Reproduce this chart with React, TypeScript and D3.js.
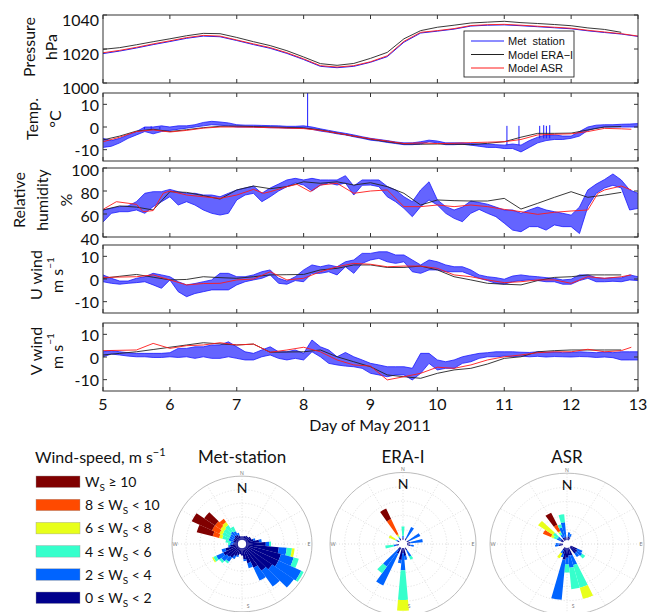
import React from 'react';
import * as d3 from 'd3';

// ---------------- time-series data ----------------
const X_TICKS = [5, 6, 7, 8, 9, 10, 11, 12, 13];
const ERA_START = 5;
const ERA_STEP = 0.25; // ERA-I, 6-hourly
const MET_START = 5;
const MET_STEP = 0.125; // met-station envelope, 3-hourly [low, high]
const MET_P_STEP = 0.25;

const eraPressure = [1019.8, 1020.8, 1022.5, 1024.3, 1026.0, 1027.8, 1029.2, 1029.0, 1026.8, 1024.3, 1022.0, 1019.0, 1015.3, 1011.4, 1010.4, 1011.5,
  1014.5, 1018.0, 1026.0, 1030.8, 1032.8, 1034.0, 1035.3, 1035.8, 1036.3, 1035.5, 1035.0, 1034.4, 1033.7, 1032.4, 1031.5, 1029.8];
const asrPressure: [number, number][] = [[5, 1017.8], [5.25, 1019.2], [5.5, 1021.0], [5.75, 1023.0], [6, 1024.8], [6.25, 1026.7], [6.5, 1028.0], [6.75, 1027.6],
  [7, 1025.3], [7.25, 1023.0], [7.5, 1020.8], [7.75, 1017.8], [8, 1014.2], [8.25, 1010.2], [8.5, 1009.4], [8.75, 1010.2], [9, 1012.5], [9.25, 1016.0],
  [9.5, 1024.5], [9.75, 1029.8], [10, 1030.8], [10.25, 1032.0], [10.5, 1033.8], [10.75, 1034.3], [11, 1034.5], [11.25, 1034.0], [11.5, 1033.4],
  [11.75, 1032.8], [12, 1032.2], [12.25, 1031.0], [12.5, 1030.0], [12.75, 1029.0], [13, 1027.6]];
const metPressure = [1017.3, 1018.8, 1020.6, 1022.6, 1024.4, 1026.3, 1027.6, 1027.2, 1025.0, 1022.6, 1020.4, 1017.4, 1013.8, 1009.8, 1009.0, 1009.8,
  1012.2, 1015.5, 1024.0, 1029.4, 1030.5, 1031.7, 1033.5, 1034.0, 1034.2, 1033.7, 1033.1, 1032.5, 1031.9, 1030.7, 1029.7, 1028.8, 1027.4];

const eraTemp = [-5.7, -4.0, -1.8, -1.0, -2.0, -1.2, -0.3, 0.3, 0.4, 0.2, 0.0, -0.2, -0.4, -1.3, -2.7, -4.0,
  -5.4, -6.5, -7.5, -7.6, -7.5, -7.6, -7.8, -7.2, -6.5, -4.5, -2.8, -2.8, -2.7, -1.3, 0.0, 0.2];
const asrTemp: [number, number][] = [[5, -6.5], [5.25, -4.5], [5.5, -2.0], [5.75, -1.3], [6, -2.2], [6.25, -1.5], [6.5, -0.5], [6.75, 0.0],
  [7, 0.0], [7.25, -0.1], [7.5, -0.3], [7.75, -0.5], [8, -0.7], [8.25, -1.5], [8.5, -2.7], [8.75, -4.0], [9, -5.2], [9.25, -6.2], [9.5, -7.3],
  [9.75, -7.0], [10, -7.3], [10.25, -7.2], [10.5, -6.9], [10.75, -6.7], [11, -6.5], [11.25, -5.5], [11.5, -3.5], [11.75, -3.2], [12, -3.0],
  [12.25, -2.0], [12.5, -0.6], [12.75, -0.8], [12.9, -1.0]];
const metTemp: [number, number][] = [
  [-9, -5], [-8.5, -6], [-7, -5], [-5, -3.5], [-3.5, -2], [-2, 0], [-3, 0], [-2, 0.5],
  [-1.5, 0], [-1, 0.5], [-0.5, 0.5], [0, 1], [0.5, 2], [1, 2.5], [0.8, 2.2], [0.5, 1.8],
  [0, 1], [0, 0.8], [0, 0.8], [-0.2, 0.7], [-0.3, 0.6], [-0.3, 0.5], [-0.5, 0.3], [-0.5, 0.3],
  [-0.5, 0.5], [-1, 0], [-1.8, -0.8], [-2.3, -1.5], [-3, -2.2], [-3.5, -2.8], [-4.3, -3.5], [-5, -4.3],
  [-5.8, -5], [-6.2, -5.5], [-6.8, -6], [-7.3, -6.6], [-7.8, -7], [-7.8, -7], [-7.5, -6.5], [-6.5, -5.8],
  [-7, -6.2], [-7.8, -7], [-7.8, -7], [-7.6, -7], [-8, -7.3], [-8.5, -7.5], [-9, -7.5], [-9, -7.8],
  [-9.5, -8], [-9.5, -7.5], [-11, -8], [-9, -6], [-7, -4.5], [-6, -3.5], [-5.5, -3.5], [-5.5, -4],
  [-5, -4], [-4, -2], [-1.5, 0], [-0.5, 0.8], [0, 1], [0, 1], [0, 1.2], [0, 1.3],
  [0, 1.5]];
// [day, base, peak] of isolated spikes
const metTempSpikes: [number, number, number][] = [[5.62, -1, 0], [5.72, -1, 0.3], [5.85, -1, 0], [8.06, 0, 15],
  [11.04, -8, 0.5], [11.22, -8, 0.5], [11.53, -5, 0.5], [11.59, -5, 0.8], [11.63, -5, 0.5], [11.68, -5, 0.8]];

const eraRH = [63.5, 67, 66, 63.5, 79.4, 78.8, 76, 73, 80.9, 84.3, 82, 83.8, 88, 86.7, 88, 85.2,
  87.2, 83.8, 78, 67.8, 72.2, 71.6, 71.3, 71.3, 73.6, 64.3, 69.3, 74.5, 79.4, 74.5, 76.5, 78.8];
const asrRH: [number, number][] = [[5, 64], [5.2, 70.7], [5.5, 68.4], [5.6, 62], [5.75, 63], [5.9, 78], [6, 80], [6.25, 76.5], [6.5, 75], [6.75, 73.6],
  [7, 76.5], [7.25, 81.4], [7.4, 78], [7.5, 79.4], [7.75, 83.8], [7.9, 85.8], [8.1, 79.4], [8.25, 85.2], [8.5, 86.7], [8.75, 78], [9, 80], [9.25, 80.9],
  [9.4, 72.2], [9.5, 66.4], [9.75, 66.4], [10, 67.8], [10.25, 66.4], [10.5, 67.8], [10.75, 66.4], [11, 64], [11.25, 62], [11.5, 59.7], [11.75, 61.5],
  [12, 62.6], [12.25, 63.5], [12.4, 78], [12.5, 80.9], [12.75, 84.3], [12.9, 80.9]];
const metRH: [number, number][] = [
  [53, 63.5], [60.6, 65], [62, 66.4], [62, 67], [63.5, 70.7], [60.6, 78], [66.4, 79.4], [70.7, 79.4],
  [75, 81.4], [67.8, 79.4], [70.7, 78], [67.8, 78], [63.5, 76.5], [60.6, 76.5], [59.1, 75], [60.6, 78],
  [72.2, 80.9], [76.5, 82.6], [78, 84.3], [70.7, 78], [75, 82.6], [80, 86], [83.8, 89.6], [87, 91],
  [85.2, 89.6], [80, 91], [85, 89.6], [87, 89.6], [85.2, 89.6], [87, 93.3], [76.5, 84.3], [85, 89.6],
  [85.2, 89.6], [83.8, 89.6], [75, 84], [70.7, 80.9], [64.9, 75], [57.7, 70.7], [66.4, 80.9], [72.2, 88],
  [67.8, 72.2], [60.6, 66.4], [56.2, 63.5], [53.3, 66], [60.6, 71.3], [64, 70], [60.6, 68.5], [57.7, 66],
  [52, 63.5], [46, 63.5], [44.6, 60.6], [49, 63.5], [49, 66], [46, 63.5], [50.5, 62], [49, 60.6],
  [49, 59], [43, 66], [66.4, 80.9], [78, 86], [82.6, 90], [85, 94.8], [82.6, 89.6], [63.5, 80.9],
  [64.9, 78]];

const eraU = [0.3, 1.2, 2.0, 0.8, -0.4, -0.2, 1.0, 0.6, 0.3, 1.0, 1.8, 1.9, 2.0, 4.0, 4.7, 6.2,
  6.2, 5.1, 5.1, 5.7, 4.0, 1.0, -0.4, -1.9, -2.3, -2.6, -0.7, 0.7, 1.0, 1.8, 1.8, 1.8];
const asrU: [number, number][] = [[5, 0.7], [5.5, 1], [5.75, 1.8], [6, -0.4], [6.25, -2.6], [6.5, -2], [6.75, -1.9], [7, -0.4], [7.25, 0], [7.5, 3.2],
  [7.75, -0.4], [8, 0.3], [8.25, 3.2], [8.5, 5.4], [8.75, 6.9], [9, 6.5], [9.25, 5.4], [9.5, 5.7], [9.75, 5.7], [10, 4.7], [10.25, 1.8], [10.5, 1],
  [10.75, -0.4], [11, -1.6], [11.25, -1.2], [11.5, -0.4], [11.75, -0.4], [12, -1.9], [12.25, 1], [12.5, 0.3], [12.75, 1], [12.9, 1.8]];
const metU: [number, number][] = [
  [-1.2, 1.8], [-1.9, 0.3], [-2.3, -0.9], [-1.9, -0.9], [-1.6, 0.3], [-1.2, 1], [-2.6, 2.5], [-4.1, 1.8],
  [-0.4, 1], [-5.6, -1.2], [-7.8, -2.6], [-6.4, -2], [-5.6, -1.2], [-4.8, -0.4], [-4.8, 2.5], [-4.8, 2.5],
  [-2.6, 1], [-1.2, 1], [-0.4, 1.8], [0.3, 3.2], [1.8, 4], [-1.9, 0.3], [-2.3, -0.9], [-0.7, 1],
  [-1.2, 4], [2.5, 6.2], [2.5, 5.4], [3.2, 6.2], [1.8, 5.4], [5.4, 7.6], [2.5, 8.4], [6.9, 11.3],
  [8.4, 11.3], [9.1, 12], [7.6, 12], [6.9, 10.6], [7.6, 10.6], [3.2, 8.4], [2.5, 6.2], [4, 8.4],
  [4, 7.6], [3.2, 6.2], [3.2, 5.4], [3.2, 5.4], [1.8, 4], [0.3, 1.8], [-0.7, 1], [-1.9, 0.6],
  [-2.3, -0.1], [-1.2, 1.3], [-0.7, 1.8], [-0.4, 1.3], [-0.7, 1], [-1.2, 0.6], [-1.2, 0.3], [-2.3, -0.4],
  [-2.3, -0.1], [-0.7, 1.8], [0.3, 1.8], [-1.2, 0.6], [-1.2, 0.3], [-1.0, 0.6], [-1.2, 0.5], [-0.4, 1.8],
  [-0.7, 1]];

const eraV = [0.9, 1.6, 2.3, 3.3, 4.3, 5.3, 6.3, 5.8, 5.3, 5.7, 2.1, 2.2, 2.3, 3.1, 0.1, -2.1,
  -4.3, -7.9, -8.7, -9.4, -7.2, -5.7, -5.0, -3.1, -0.6, 0.1, 2.3, 2.8, 3.1, 3.1, 3.1, 3.1];
const asrV: [number, number][] = [[5, 2.8], [5.5, 3.1], [5.75, 6], [6, 3.8], [6.25, 5], [6.5, 5.3], [6.75, 6.3], [7, 5.3], [7.25, 5.7], [7.5, 2.1],
  [7.75, 3.1], [8, 4.3], [8.25, 2.3], [8.5, -1.3], [8.75, -3.5], [9, -4], [9.25, -10.1], [9.5, -8.7], [9.75, -7.2], [10, -4.5], [10.25, -5],
  [10.5, -3.5], [10.75, -1.3], [11, 0.1], [11.25, 0.9], [11.5, 1.9], [11.75, 2.3], [12, 2.3], [12.25, 3.4], [12.5, 2.3], [12.75, 2.8], [12.9, 4.3]];
const metV: [number, number][] = [
  [0.1, 2.3], [1.3, 2.8], [0.9, 2.3], [0.4, 1.9], [0.1, 1.6], [0.1, 1.6], [-0.2, 1.6], [-0.2, 1.6],
  [0.1, 1.9], [-0.2, 3.8], [0.1, 3.8], [-0.6, 4.5], [0.1, 4.5], [-0.6, 5.3], [-0.6, 5.3], [0.1, 6.7],
  [-0.6, 4.5], [-1.3, 2.3], [-1.3, 1.6], [0.1, 3.1], [0.9, 4.5], [-0.6, 2.3], [-1.3, 2.3], [-0.6, 3.1],
  [-1.3, 1.6], [2.3, 7.5], [0.1, 4.5], [-2.8, 3.1], [-3.5, 0.1], [-4, 2], [-4.3, 0.1], [-5, -1.3],
  [-7.2, -2.8], [-7.9, -3.5], [-8.7, -4.3], [-7.9, -4.3], [-7.9, -4.3], [-10.1, -5], [-7.2, 1.6], [-2.8, 1.6],
  [-5.7, -1.3], [-5, -2.1], [-5, -1.3], [-2.8, 0.1], [-2.1, 0.9], [-0.6, 1.6], [0.1, 1.9], [0.1, 2.3],
  [0.4, 2.3], [0.1, 2.3], [0.4, 2.1], [0.1, 2.0], [0.3, 2.3], [0, 2.1], [0.2, 2.2], [0.1, 1.9],
  [0, 2.0], [0.2, 2.3], [0.1, 2.1], [-0.2, 1.9], [0, 2.2], [-0.3, 1.9], [-1.3, 2.3], [-1.3, 2.3],
  [-1.3, 2.3]];

// ---------------- wind-rose data ----------------
// petal length per speed bin (fraction of rose radius), bins: 0-2, 2-4, 4-6, 6-8, 8-10, >=10
const SPEED_COLORS = ['#00008c', '#0064ff', '#36ffcc', '#e8ff1a', '#ff4a00', '#800000'];
const SPEED_LABELS = ['0 ≤ |< 2', '2 ≤ |< 4', '4 ≤ |< 6', '6 ≤ |< 8', '8 ≤ |< 10', '|≥ 10'];
const SECTOR_WIDTH = 10;

type Petal = { dir: number; bins: number[] };
const metRose: Petal[] = [
  { dir: 0, bins: [0.06] }, { dir: 10, bins: [0.06] }, { dir: 20, bins: [0.07] }, { dir: 30, bins: [0.08] },
  { dir: 40, bins: [0.08] }, { dir: 50, bins: [0.1] }, { dir: 60, bins: [0.1] }, { dir: 70, bins: [0.12, 0.03] },
  { dir: 80, bins: [0.2, 0.04] }, { dir: 90, bins: [0.3, 0.05, 0.03] }, { dir: 100, bins: [0.5, 0.12, 0.08, 0.04] },
  { dir: 110, bins: [0.55, 0.2, 0.08] }, { dir: 120, bins: [0.55, 0.38, 0.04] }, { dir: 130, bins: [0.5, 0.4] },
  { dir: 140, bins: [0.45, 0.3] }, { dir: 150, bins: [0.35, 0.22] }, { dir: 160, bins: [0.25, 0.08] },
  { dir: 170, bins: [0.18, 0.03] }, { dir: 180, bins: [0.12] }, { dir: 190, bins: [0.1] }, { dir: 200, bins: [0.12, 0.03] },
  { dir: 210, bins: [0.15, 0.05] }, { dir: 220, bins: [0.2, 0.08, 0.03] }, { dir: 230, bins: [0.22, 0.1, 0.04] },
  { dir: 240, bins: [0.25, 0.12, 0.05, 0.02] }, { dir: 250, bins: [0.2, 0.06] }, { dir: 260, bins: [0.12, 0.03] },
  { dir: 270, bins: [0.08, 0.04, 0.03] }, { dir: 280, bins: [0.06, 0.05, 0.08] },
  { dir: 290, bins: [0.08, 0.07, 0.1, 0.05, 0.1, 0.25] }, { dir: 300, bins: [0.08, 0.07, 0.12, 0.05, 0.12, 0.34] },
  { dir: 310, bins: [0.08, 0.08, 0.12, 0.06, 0.1, 0.2] }, { dir: 320, bins: [0.1, 0.08, 0.12, 0.06, 0.06] },
  { dir: 330, bins: [0.1, 0.06, 0.08] }, { dir: 340, bins: [0.08, 0.04] }, { dir: 350, bins: [0.06] },
];
const eraRose: Petal[] = [
  { dir: 0, bins: [0.03, 0.03, 0.14] }, { dir: 30, bins: [0.04, 0.18] }, { dir: 60, bins: [0.04, 0.18] },
  { dir: 80, bins: [0.05, 0.18] }, { dir: 100, bins: [0.05, 0.05] }, { dir: 150, bins: [0.05, 0.1, 0.05] },
  { dir: 170, bins: [0.12, 0.06] }, { dir: 180, bins: [0.08, 0.25, 0.44, 0.16] }, { dir: 190, bins: [0.18, 0.05] },
  { dir: 210, bins: [0.1, 0.52] }, { dir: 220, bins: [0.05, 0.3, 0.12] }, { dir: 260, bins: [0.04, 0.04, 0.12] },
  { dir: 300, bins: [0.03, 0.02, 0.02, 0.1] }, { dir: 330, bins: [0.03, 0.02, 0.02, 0.03, 0.25, 0.17] },
];
const asrRose: Petal[] = [
  { dir: 10, bins: [0.06, 0.06] }, { dir: 20, bins: [0.05, 0.05] }, { dir: 120, bins: [0.1, 0.08] },
  { dir: 130, bins: [0.12, 0.08, 0.05] }, { dir: 140, bins: [0.12, 0.06] }, { dir: 160, bins: [0.12, 0.15, 0.35, 0.17] },
  { dir: 170, bins: [0.12, 0.18, 0.32] }, { dir: 180, bins: [0.15, 0.1, 0.12] }, { dir: 190, bins: [0.18, 0.6] },
  { dir: 200, bins: [0.1, 0.05] }, { dir: 210, bins: [0.05, 0.05, 0, 0.08] }, { dir: 260, bins: [0.06, 0.05] },
  { dir: 270, bins: [0.05, 0.05] }, { dir: 300, bins: [0.05, 0.05, 0.05, 0.04, 0.12] },
  { dir: 310, bins: [0.05, 0.05, 0.08, 0.25] }, { dir: 330, bins: [0.05, 0.05, 0.04, 0.02, 0.1, 0.2] },
  { dir: 340, bins: [0.05, 0.15, 0.05] }, { dir: 350, bins: [0.05, 0.22, 0.12] },
];

// ---------------- layout ----------------
const W = 649;
const H = 612;
const FONT = 'Lato, "Open Sans", sans-serif';
const MET_COLOR = '#1a1aff';
const x = d3.scaleLinear().domain([5, 13]).range([103, 638]);

type Panel = {
  id: string; top: number; bottom: number; domain: [number, number]; ticks: number[]; labelDy: number;
  labels: { text: string; cx: number; sup?: string }[]; labelCy: number;
  era: number[]; asr: [number, number][]; metLine?: number[]; metBand?: [number, number][]; spikes?: [number, number, number][];
};

const panels: Panel[] = [
  { id: 'p', top: 15, bottom: 83, domain: [1000, 1040], ticks: [1000, 1020, 1040], labelDy: 4,
    labels: [{ text: 'Pressure', cx: 28 }, { text: 'hPa', cx: 50 }], labelCy: 47,
    era: eraPressure, asr: asrPressure, metLine: metPressure },
  { id: 't', top: 93, bottom: 161, domain: [-15, 15], ticks: [-10, 0, 10], labelDy: 0,
    labels: [{ text: 'Temp.', cx: 31 }, { text: '°C', cx: 54 }], labelCy: 119,
    era: eraTemp, asr: asrTemp, metBand: metTemp, spikes: metTempSpikes },
  { id: 'rh', top: 168, bottom: 237, domain: [40, 100], ticks: [40, 60, 80, 100], labelDy: 1,
    labels: [{ text: 'Relative', cx: 18 }, { text: 'humidity', cx: 41 }, { text: '%', cx: 65 }], labelCy: 200,
    era: eraRH, asr: asrRH, metBand: metRH },
  { id: 'u', top: 245, bottom: 313, domain: [-15, 15], ticks: [-10, 0, 10], labelDy: 0,
    labels: [{ text: 'U wind', cx: 35 }, { text: 'm s', cx: 56, sup: '−1' }], labelCy: 275,
    era: eraU, asr: asrU, metBand: metU },
  { id: 'v', top: 323, bottom: 391, domain: [-15, 15], ticks: [-10, 0, 10], labelDy: 0,
    labels: [{ text: 'V wind', cx: 35 }, { text: 'm s', cx: 56, sup: '−1' }], labelCy: 351,
    era: eraV, asr: asrV, metBand: metV },
];

function PanelView({ p }: { p: Panel }) {
  const y = d3.scaleLinear().domain(p.domain).range([p.bottom, p.top]);
  const line = d3.line<[number, number]>().x(d => x(d[0])).y(d => y(d[1]));
  const eraPts: [number, number][] = p.era.map((v, i) => [ERA_START + i * ERA_STEP, v]);
  const x0 = x.range()[0], x1 = x.range()[1];
  let metEls: React.ReactNode = null;
  if (p.metLine) {
    const pts: [number, number][] = p.metLine.map((v, i) => [MET_START + i * MET_P_STEP, v]);
    metEls = <path d={line(pts) || ''} fill="none" stroke={MET_COLOR} strokeWidth={1} />;
  } else if (p.metBand) {
    const band = p.metBand.map((d, i) => ({ t: MET_START + i * MET_STEP, lo: d[0], hi: d[1] }));
    const area = d3.area<{ t: number; lo: number; hi: number }>().x(d => x(d.t)).y0(d => y(d.lo)).y1(d => y(d.hi));
    const loLine = d3.line<{ t: number; lo: number; hi: number }>().x(d => x(d.t)).y(d => y(d.lo));
    const hiLine = d3.line<{ t: number; lo: number; hi: number }>().x(d => x(d.t)).y(d => y(d.hi));
    metEls = (
      <g>
        <path d={area(band) || ''} fill={MET_COLOR} fillOpacity={0.68} stroke="none" />
        <path d={loLine(band) || ''} fill="none" stroke={MET_COLOR} strokeWidth={0.8} />
        <path d={hiLine(band) || ''} fill="none" stroke={MET_COLOR} strokeWidth={0.8} />
        {(p.spikes || []).map((s, i) => (
          <line key={i} x1={x(s[0])} x2={x(s[0])} y1={y(s[1])} y2={y(s[2])} stroke={MET_COLOR} strokeWidth={1} />
        ))}
      </g>
    );
  }
  return (
    <g>
      <defs>
        <clipPath id={`clip-${p.id}`}><rect x={x0} y={p.top} width={x1 - x0} height={p.bottom - p.top} /></clipPath>
      </defs>
      <rect x={x0} y={p.top} width={x1 - x0} height={p.bottom - p.top} fill="#fff" />
      <g clipPath={`url(#clip-${p.id})`}>
        {metEls}
        <path d={line(eraPts) || ''} fill="none" stroke="#222" strokeWidth={0.9} />
        <path d={line(p.asr) || ''} fill="none" stroke="#ff1a1a" strokeWidth={0.9} />
      </g>
      {X_TICKS.map(t => (
        <g key={t}>
          <line x1={x(t)} x2={x(t)} y1={p.bottom} y2={p.bottom - 4} stroke="#333" />
          <line x1={x(t)} x2={x(t)} y1={p.top} y2={p.top + 4} stroke="#333" />
        </g>
      ))}
      {p.ticks.map(t => (
        <g key={t}>
          <line x1={x0} x2={x0 + 4} y1={y(t)} y2={y(t)} stroke="#333" />
          <line x1={x1} x2={x1 - 4} y1={y(t)} y2={y(t)} stroke="#333" />
          <text x={99} y={y(t) + p.labelDy} textAnchor="end" dominantBaseline="central" fontFamily={FONT} fontSize={16} fill="#111">{t}</text>
        </g>
      ))}
      <rect x={x0} y={p.top} width={x1 - x0} height={p.bottom - p.top} fill="none" stroke="#333" strokeWidth={1} />
      {p.labels.map((l, i) => (
        <text key={i} transform={`translate(${l.cx},${p.labelCy}) rotate(-90)`} textAnchor="middle" dominantBaseline="central"
          fontFamily={FONT} fontSize={16} fill="#111">
          {l.text}{l.sup ? <tspan dy={-6} fontSize={10}>{l.sup}</tspan> : null}
        </text>
      ))}
    </g>
  );
}

function Rose({ data, cx, cy, R, sy, title }: { data: Petal[]; cx: number; cy: number; R: number; sy: number; title: string }) {
  const r = d3.scaleLinear().domain([0, 1]).range([4, R]);
  const arc = d3.arc<any>();
  const rad = (deg: number) => (deg * Math.PI) / 180;
  const rings = [0.2, 0.4, 0.6, 0.8];
  const spokes = d3.range(0, 360, 30);
  return (
    <g>
      <text x={cx} y={463} textAnchor="middle" fontFamily={FONT} fontSize={17} fill="#111">{title}</text>
      <g transform={`translate(${cx},${cy}) scale(1,${sy})`}>
        <circle r={R} fill="#fff" stroke="#aaa" strokeWidth={0.8} />
        {rings.map(f => <circle key={f} r={R * f} fill="none" stroke="#c8c8c8" strokeWidth={0.6} strokeDasharray="1,2" />)}
        {spokes.map(a => (
          <line key={a} x1={0} y1={0} x2={R * Math.sin(rad(a))} y2={-R * Math.cos(rad(a))} stroke="#c8c8c8" strokeWidth={0.6} strokeDasharray="1,2" />
        ))}
        {data.map(pt => {
          let c = 0;
          return pt.bins.map((b, k) => {
            const inner = c; c += b;
            if (b <= 0) return null;
            return (
              <path key={`${pt.dir}-${k}`} fill={SPEED_COLORS[k]} stroke="none"
                d={arc({ innerRadius: r(inner), outerRadius: r(c), startAngle: rad(pt.dir - SECTOR_WIDTH / 2), endAngle: rad(pt.dir + SECTOR_WIDTH / 2) }) || ''} />
            );
          });
        })}
        <circle r={4} fill="#fff" />
      </g>
      <text x={cx} y={cy - R * sy - 1.5} textAnchor="middle" fontFamily={FONT} fontSize={5} fill="#777">N</text>
      <text x={cx + 6} y={Math.min(cy + R * sy - 1.5, 608)} textAnchor="middle" fontFamily={FONT} fontSize={5} fill="#777">S</text>
      <text x={cx + R - 3} y={cy} textAnchor="middle" dominantBaseline="central" fontFamily={FONT} fontSize={5} fill="#777">E</text>
      <text x={cx - R + 3} y={cy} textAnchor="middle" dominantBaseline="central" fontFamily={FONT} fontSize={5} fill="#777">W</text>
      <text x={cx} y={cy - R * sy + 17} textAnchor="middle" fontFamily={FONT} fontSize={14} fill="#111">N</text>
    </g>
  );
}

export default function App() {
  const legendRows = [5, 4, 3, 2, 1, 0];
  return (
    <svg width={W} height={H} style={{ position: 'absolute', left: 0, top: 0, background: '#fff' }}>
      <rect width={W} height={H} fill="#fff" />
      {panels.map(p => <PanelView key={p.id} p={p} />)}
      {X_TICKS.map(t => (
        <text key={t} x={x(t)} y={410} textAnchor="middle" fontFamily={FONT} fontSize={16} fill="#111">{t}</text>
      ))}
      <text x={370} y={431} textAnchor="middle" fontFamily={FONT} fontSize={16} fill="#111">Day of May 2011</text>

      <g>
        <rect x={464} y={31} width={110} height={46} fill="#fff" stroke="#111" strokeWidth={0.8} />
        {[{ t: 'Met  station', c: MET_COLOR }, { t: 'Model ERA−I', c: '#222' }, { t: 'Model ASR', c: '#ff1a1a' }].map((e, i) => (
          <g key={i}>
            <line x1={471} x2={504} y1={41 + i * 13.5} y2={41 + i * 13.5} stroke={e.c} strokeWidth={1} />
            <text x={508} y={41 + i * 13.5} dominantBaseline="central" fontFamily='"Liberation Sans", Arial, sans-serif' fontSize={11} fill="#111" style={{ whiteSpace: 'pre' }}>{e.t}</text>
          </g>
        ))}
      </g>

      <text x={35} y={463} fontFamily={FONT} fontSize={16} fill="#111">Wind-speed, m s<tspan dy={-7} fontSize={11}>−1</tspan></text>
      {legendRows.map((k, i) => {
        const yTop = 476 + i * 23.2;
        const parts = SPEED_LABELS[k].split('|');
        return (
          <g key={k}>
            <rect x={36} y={yTop} width={44} height={11.5} fill={SPEED_COLORS[k]} stroke="#999" strokeWidth={0.4} />
            <text x={85} y={yTop + 11} fontFamily={FONT} fontSize={14} fill="#111">
              {parts[0]}W<tspan dy={4} fontSize={10}>S</tspan><tspan dy={-4}>{' ' + parts[1]}</tspan>
            </text>
          </g>
        );
      })}

      <Rose data={metRose} cx={242} cy={544} R={70} sy={0.97} title="Met-station" />
      <Rose data={eraRose} cx={403} cy={544} R={73} sy={0.98} title="ERA-I" />
      <Rose data={asrRose} cx={567} cy={544} R={77} sy={0.92} title="ASR" />
    </svg>
  );
}
